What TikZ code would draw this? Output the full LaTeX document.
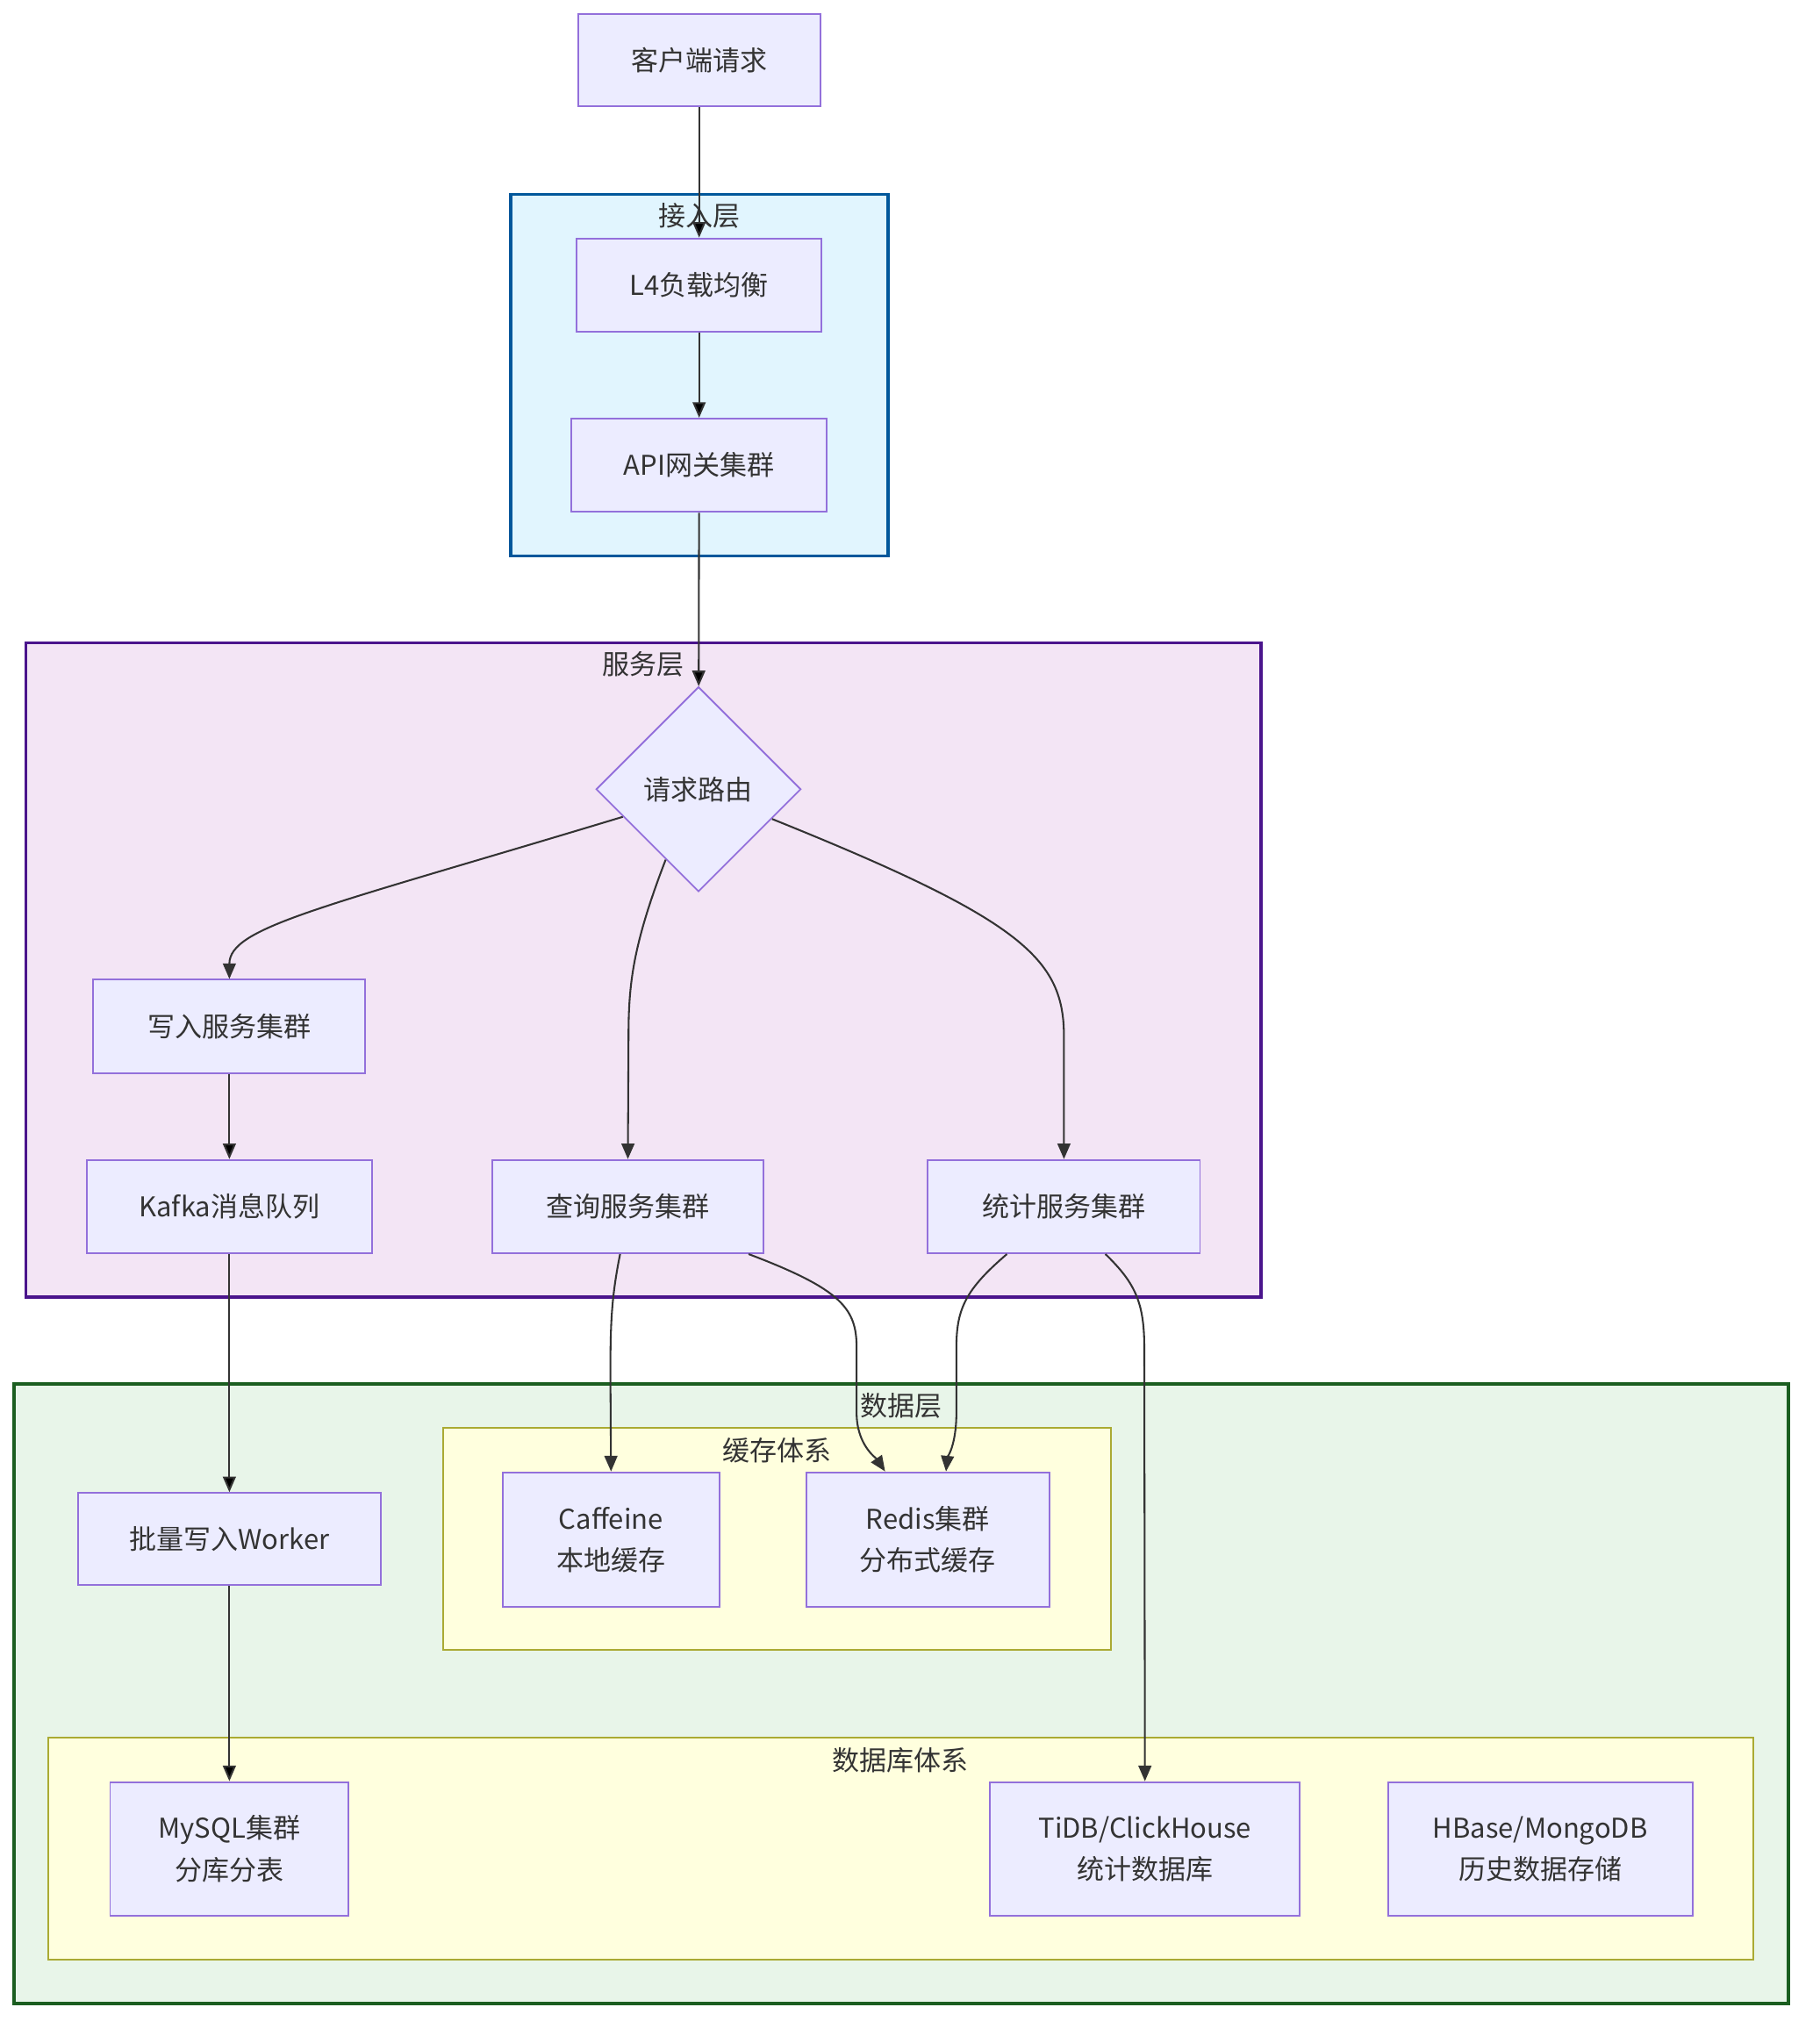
\documentclass[tikz,border=0pt]{standalone}
\usepackage{fontspec}
\setmainfont{Noto Sans CJK SC}
\usepackage{tikz}
\usetikzlibrary{shapes.geometric,arrows.meta,positioning}
\definecolor{nodefill}{HTML}{ECECFF}
\definecolor{nodeline}{HTML}{9370DB}
\definecolor{edgecol}{HTML}{333333}
\definecolor{accfill}{HTML}{E1F5FE}
\definecolor{accline}{HTML}{01579B}
\definecolor{svcfill}{HTML}{F3E5F5}
\definecolor{svcline}{HTML}{4A148C}
\definecolor{datfill}{HTML}{E8F5E9}
\definecolor{datline}{HTML}{1B5E20}
\definecolor{grpfill}{HTML}{FFFFDE}
\definecolor{grpline}{HTML}{AAAA33}
\newcommand*\txt{\fontsize{21}{32}\selectfont}
\tikzset{
	box/.style={rectangle,draw=nodeline,fill=nodefill,line width=1.3pt,minimum height=72pt,align=center,text=edgecol,font=\txt},
	decide/.style={diamond,draw=nodeline,fill=nodefill,line width=1.3pt,minimum width=158pt,minimum height=158pt,inner sep=0pt,text=edgecol,font=\txt},
	layer/.style={rectangle,line width=2.6pt,inner sep=0pt},
	group/.style={rectangle,draw=grpline,fill=grpfill,line width=1.3pt,inner sep=0pt},
	title/.style={anchor=north,inner sep=0pt,text=edgecol,font=\txt},
	link/.style={draw=edgecol,line width=1.4pt,-{Triangle[length=12pt,width=10pt]}}
}

\begin{document}
\begin{tikzpicture}[x=1pt,y=-1pt]
		\useasboundingbox (0,0) rectangle (1404,1571);
		% layers
		\node[layer,draw=accline,fill=accfill,minimum width=291pt,minimum height=279pt] (access) at (539.5,289.5) {};
		\node[layer,draw=svcline,fill=svcfill,minimum width=953pt,minimum height=505pt] (service) at (496.5,748.5) {};
		\node[layer,draw=datline,fill=datfill,minimum width=1369pt,minimum height=478pt] (data) at (695.5,1307) {};
		\node[group,minimum width=515pt,minimum height=171pt] (cache) at (599.5,1187.5) {};
		\node[group,minimum width=1316pt,minimum height=171pt] (dbs) at (695,1426.5) {};
		\node[title] (accesslbl) at ([yshift=-8pt]access.north) {接入层};
		\node[title] (servicelbl) at ([yshift=-8pt]service.north) {服务层};
		\node[title] (datalbl) at ([yshift=-8pt]data.north) {数据层};
		\node[title] (cachelbl) at ([yshift=-8pt]cache.north) {缓存体系};
		\node[title] (dbslbl) at ([yshift=-8pt]dbs.north) {数据库体系};

		% nodes
		\node[box,minimum width=187pt,minimum height=71pt] (client) at (539.5,46.5) {客户端请求};
		\node[box,minimum width=189pt] (l4) at (539.5,220) {L4负载均衡};
		\node[box,minimum width=197pt] (api) at (539.5,359) {API网关集群};
		\node[decide] (route) at (539,609) {请求路由};
		\node[box,minimum width=210pt] (write) at (177,792) {写入服务集群};
		\node[box,minimum width=220pt] (kafka) at (177,931) {Kafka消息队列};
		\node[box,minimum width=209pt] (query) at (484.5,931) {查询服务集群};
		\node[box,minimum width=210pt] (stats) at (821,931) {统计服务集群};
		\node[box,minimum width=234pt,minimum height=71pt] (worker) at (177,1187.5) {批量写入Worker};
		\node[box,minimum width=167pt,minimum height=104pt] (caf) at (471.5,1188) {Caffeine\\本地缓存};
		\node[box,minimum width=188pt,minimum height=104pt] (redis) at (716,1188) {Redis集群\\分布式缓存};
		\node[box,minimum width=184pt,minimum height=103pt] (mysql) at (177,1426.5) {MySQL集群\\分库分表};
		\node[box,minimum width=239pt,minimum height=103pt] (tidb) at (883.5,1426.5) {TiDB/ClickHouse\\统计数据库};
		\node[box,minimum width=235pt,minimum height=103pt] (hbase) at (1188.5,1426.5) {HBase/MongoDB\\历史数据存储};

		% links
		\path[link]
			(client) edge (l4)
			(l4) edge (api)
			(api) edge (route)
			(write) edge (kafka)
			(kafka) edge (worker)
			(worker) edge (mysql);
		\draw[link] (route.200) .. controls (250,700) and (177,715) .. (write.north);
		\draw[link] (route.245) .. controls (488,730) and (485,760) .. (485,800) -- (query.north);
		\draw[link] (route.338) .. controls (790,710) and (821,740) .. (821,800) -- (stats.north);
		\draw[link] ([xshift=-6pt]query.south) .. controls (472,1000) and (471,1020) .. (471,1060) -- (caf.north);
		\draw[link] ([xshift=-12pt]query.south east) .. controls (650,995) and (661,1010) .. (661,1040) -- (661,1090) .. controls (661,1115) and (676,1125) .. ([xshift=-33pt]redis.north);
		\draw[link] ([xshift=-44pt]stats.south) .. controls (745,995) and (738,1010) .. (738,1040) -- (738,1090) .. controls (738,1115) and (731,1125) .. ([xshift=14pt]redis.north);
		\draw[link] ([xshift=32pt]stats.south) .. controls (876,990) and (883,1005) .. (883,1040) -- (tidb.north);
\end{tikzpicture}
\end{document}
